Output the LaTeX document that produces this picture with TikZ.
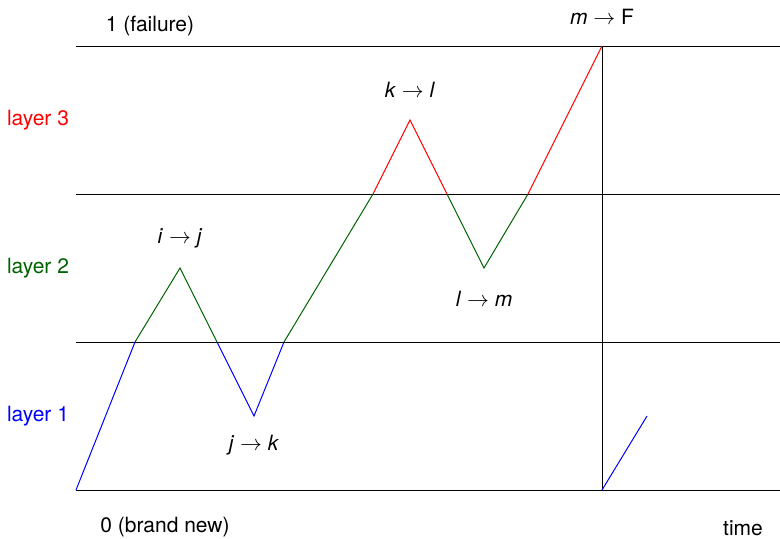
\documentclass[tikz,border=0pt]{standalone}
\usepackage{fontspec}
\setmainfont{TeX Gyre Heros}
\definecolor{darkgreen}{rgb}{0,0.39,0}
\newcommand{\st}[1]{\textit{#1}}
\begin{document}
\begin{tikzpicture}[x=0.5pt, y=-0.5pt,
    every node/.style={font=\fontsize{10.5}{12.5}\selectfont, inner sep=0pt},
    level/.style={draw=black, line width=0.5pt},
    l1/.style={draw=blue, line width=0.5pt},
    l2/.style={draw=darkgreen, line width=0.5pt},
    l3/.style={draw=red, line width=0.5pt}
]
\useasboundingbox (0,0) rectangle (780,538);

% Levels
\coordinate (top l) at (76,46);   \coordinate (top r) at (780,46);
\coordinate (b23 l) at (76,194);  \coordinate (b23 r) at (780,194);
\coordinate (b12 l) at (76,342);  \coordinate (b12 r) at (780,342);
\coordinate (bot l) at (76,490);  \coordinate (bot r) at (780,490);
\draw[level] (top l) -- (top r);
\draw[level] (b23 l) -- (b23 r);
\draw[level] (b12 l) -- (b12 r);
\draw[level] (bot l) -- (bot r);

% Path points
\coordinate (p0) at (76,490);
\coordinate (p1) at (135,342);
\coordinate (p2) at (180,268);
\coordinate (p3) at (217,342);
\coordinate (p4) at (254,416);
\coordinate (p5) at (284,342);
\coordinate (p6) at (373,194);
\coordinate (p7) at (410,120);
\coordinate (p8) at (447,194);
\coordinate (p9) at (484,268);
\coordinate (p10) at (528,194);
\coordinate (p11) at (602,46);
\coordinate (q0) at (602,490);
\coordinate (q1) at (647,416);

% Failure line
\draw[level] (p11) -- (q0);

% Degradation path
\draw[l1] (p0) -- (p1);
\draw[l2] (p1) -- (p2) -- (p3);
\draw[l1] (p3) -- (p4) -- (p5);
\draw[l2] (p5) -- (p6);
\draw[l3] (p6) -- (p7) -- (p8);
\draw[l2] (p8) -- (p9) -- (p10);
\draw[l3] (p10) -- (p11);
\draw[l1] (q0) -- (q1);

% Labels
\node (failure) at (150,26) {1 (failure)};
\node (new) at (165,527) {0 (brand new)};
\node (time) at (743,528) {time};
\node[text=red] (layer3) at (38,120) {layer 3};
\node[text=darkgreen] (layer2) at (38,268) {layer 2};
\node[text=blue] (layer1) at (38,416) {layer 1};

\node (mF) at (602,17) {\st{m} $\rightarrow$ F};
\node (kl) at (410,90) {\st{k} $\rightarrow$ \st{l}};
\node (ij) at (180,238) {\st{i} $\rightarrow$ \st{j}};
\node (lm) at (484,299) {\st{l} $\rightarrow$ \st{m}};
\node (jk) at (254,445) {\st{j} $\rightarrow$ \st{k}};

\end{tikzpicture}
\end{document}
